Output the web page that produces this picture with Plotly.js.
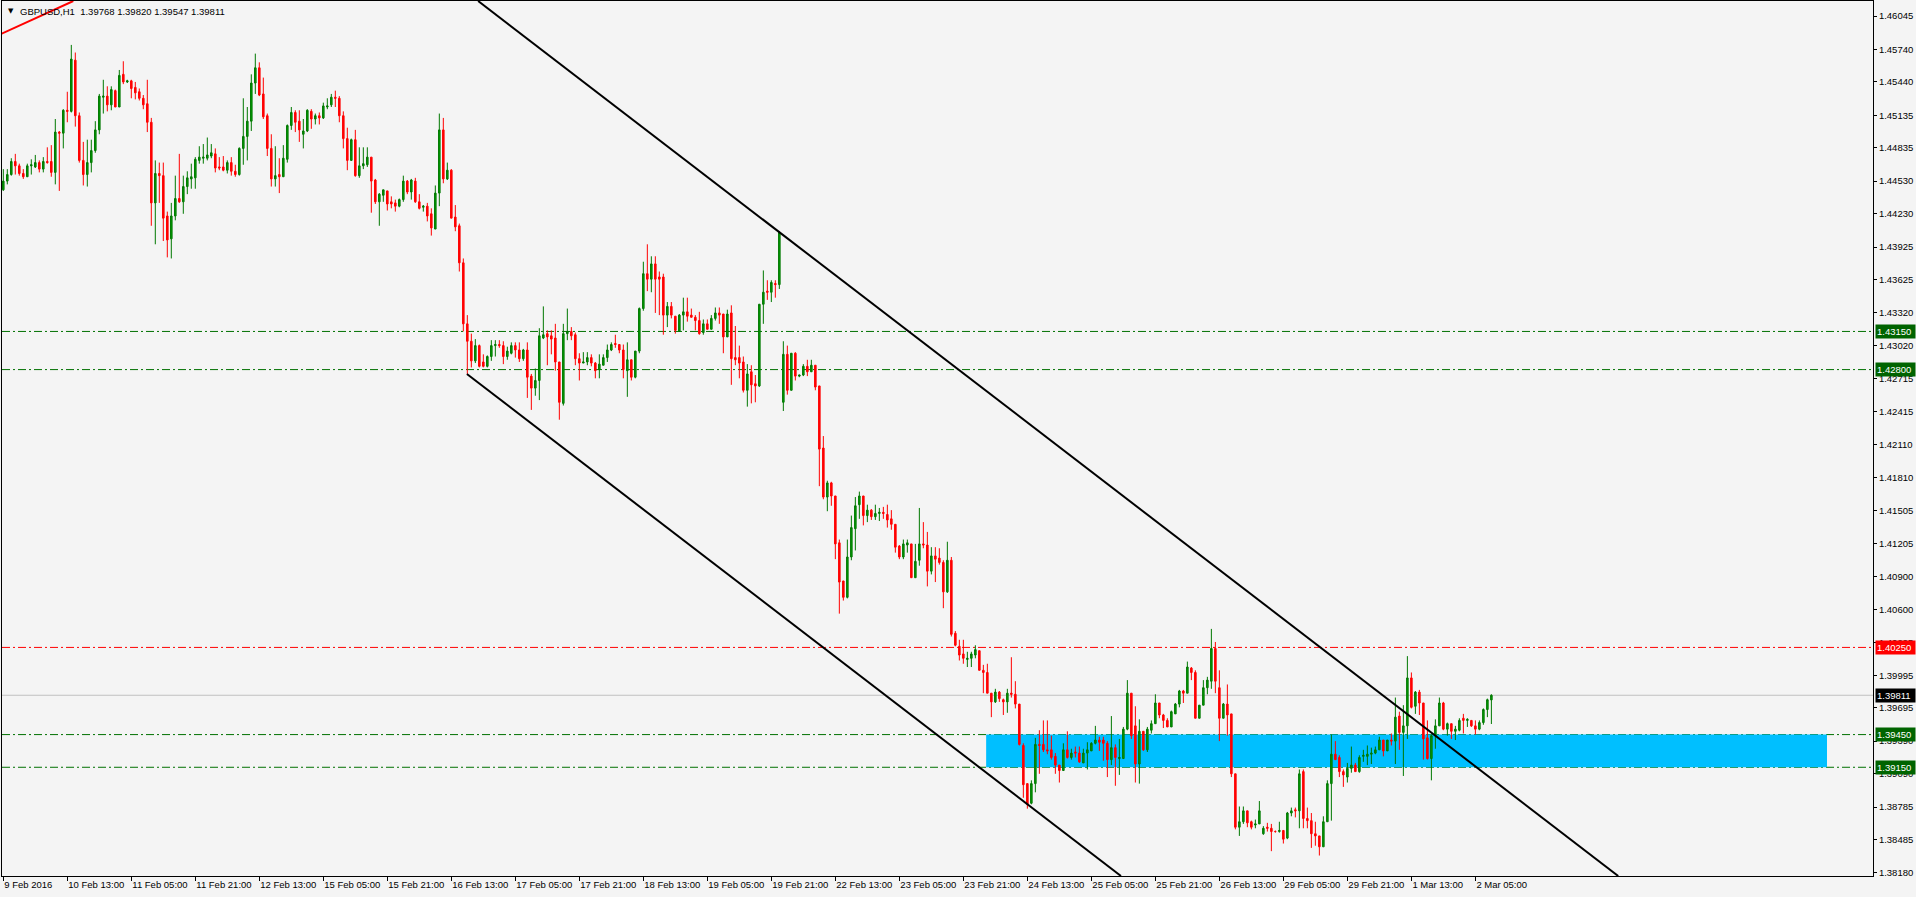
<!DOCTYPE html>
<html><head><meta charset="utf-8">
<script src="https://cdn.plot.ly/plotly-3.0.1.min.js"></script>
<style>html,body{margin:0;padding:0;background:#f4f4f4;overflow:hidden}#chart{width:1916px;height:897px}</style>
</head><body><div id="chart"></div>
<script>
// GBPUSD H1, bars from 9 Feb 2016 21:00 to 2 Mar 2016 09:00
const barOpen = [
1.4445,1.4453,1.4459,1.4471,1.4467,1.4460,1.4457,1.4467,1.4466,1.4470,
1.4464,1.4471,1.4471,1.4461,1.4498,1.4497,1.4518,1.4517,1.4564,1.4513,
1.4472,1.4459,1.4470,1.4481,1.4500,1.4530,1.4531,1.4523,1.4536,1.4521,
1.4551,1.4544,1.4545,1.4539,1.4535,1.4529,1.4524,1.4507,1.4433,1.4460,
1.4458,1.4421,1.4400,1.4421,1.4437,1.4434,1.4448,1.4455,1.4456,1.4472,
1.4474,1.4474,1.4476,1.4478,1.4466,1.4466,1.4463,1.4470,1.4462,1.4459,
1.4483,1.4494,1.4508,1.4543,1.4557,1.4533,1.4513,1.4483,1.4455,1.4459,
1.4457,1.4473,1.4504,1.4516,1.4508,1.4496,1.4499,1.4517,1.4510,1.4513,
1.4511,1.4521,1.4523,1.4530,1.4529,1.4513,1.4492,1.4472,1.4491,1.4458,
1.4467,1.4468,1.4475,1.4454,1.4434,1.4440,1.4444,1.4434,1.4433,1.4430,
1.4436,1.4453,1.4443,1.4453,1.4434,1.4429,1.4430,1.4423,1.4409,1.4442,
1.4500,1.4455,1.4463,1.4420,1.4412,1.4378,1.4322,1.4306,1.4288,1.4302,
1.4287,1.4283,1.4292,1.4302,1.4303,1.4302,1.4292,1.4295,1.4302,1.4298,
1.4290,1.4298,1.4274,1.4263,1.4270,1.4309,1.4313,1.4311,1.4309,1.4287,
1.4249,1.4313,1.4315,1.4312,1.4290,1.4286,1.4287,1.4291,1.4286,1.4280,
1.4284,1.4291,1.4298,1.4304,1.4303,1.4298,1.4279,1.4289,1.4273,1.4297,
1.4336,1.4368,1.4363,1.4377,1.4365,1.4365,1.4330,1.4338,1.4329,1.4315,
1.4330,1.4333,1.4330,1.4328,1.4325,1.4314,1.4322,1.4317,1.4327,1.4332,
1.4331,1.4310,1.4332,1.4291,1.4291,1.4287,1.4261,1.4278,1.4267,1.4265,
1.4340,1.4352,1.4351,1.4359,1.4358,1.4250,1.4294,1.4261,1.4295,1.4274,
1.4275,1.4283,1.4278,1.4284,1.4265,1.4208,1.4163,1.4176,1.4164,1.4121,
1.4086,1.4071,1.4108,1.4134,1.4156,1.4164,1.4146,1.4151,1.4145,1.4148,
1.4149,1.4147,1.4143,1.4138,1.4118,1.4108,1.4119,1.4120,1.4089,1.4105,
1.4120,1.4119,1.4095,1.4109,1.4107,1.4103,1.4076,1.4105,1.4038,1.4026,
1.4019,1.4014,1.4015,1.4018,1.4022,1.4004,1.4002,1.3983,1.3975,1.3984,
1.3977,1.3975,1.3983,1.3982,1.3973,1.3935,1.3900,1.3882,1.3900,1.3936,
1.3936,1.3931,1.3931,1.3925,1.3917,1.3912,1.3931,1.3924,1.3929,1.3928,
1.3919,1.3928,1.3930,1.3937,1.3940,1.3940,1.3937,1.3922,1.3933,1.3923,
1.3923,1.3950,1.3983,1.3953,1.3918,1.3948,1.3931,1.3949,1.3955,1.3974,
1.3963,1.3958,1.3952,1.3964,1.3973,1.3985,1.3983,1.4006,1.4002,1.3960,
1.3972,1.3988,1.3994,1.4024,1.3988,1.3960,1.3973,1.3964,1.3909,1.3860,
1.3865,1.3875,1.3865,1.3862,1.3863,1.3854,1.3860,1.3859,1.3856,1.3856,
1.3857,1.3850,1.3873,1.3876,1.3875,1.3911,1.3868,1.3866,1.3854,1.3852,
1.3842,1.3865,1.3900,1.3927,1.3924,1.3911,1.3906,1.3914,1.3917,1.3911,
1.3925,1.3925,1.3927,1.3928,1.3931,1.3940,1.3930,1.3940,1.3939,1.3962,
1.3947,1.3953,1.3997,1.3971,1.3984,1.3974,1.3942,1.3923,1.3944,1.3953,
1.3974,1.3950,1.3955,1.3948,1.3949,1.3960,1.3958,1.3958,1.3953,1.3950,
1.3956,1.3968,1.39768];
const barHigh = [
1.4464,1.4464,1.4474,1.4478,1.4469,1.4464,1.4469,1.4473,1.4477,1.4472,
1.4475,1.4484,1.4486,1.4510,1.4499,1.4519,1.4535,1.4578,1.4571,1.4516,
1.4489,1.4491,1.4491,1.4508,1.4533,1.4546,1.4540,1.4540,1.4537,1.4555,
1.4563,1.4546,1.4546,1.4544,1.4538,1.4532,1.4546,1.4511,1.4472,1.4470,
1.4470,1.4425,1.4433,1.4458,1.4478,1.4458,1.4462,1.4469,1.4475,1.4485,
1.4487,1.4493,1.4487,1.4483,1.4475,1.4476,1.4472,1.4475,1.4468,1.4484,
1.4529,1.4521,1.4551,1.4570,1.4562,1.4548,1.4515,1.4496,1.4485,1.4474,
1.4486,1.4505,1.4521,1.4518,1.4518,1.4510,1.4519,1.4519,1.4515,1.4516,
1.4525,1.4529,1.4533,1.4536,1.4531,1.4517,1.4502,1.4492,1.4500,1.4484,
1.4484,1.4484,1.4475,1.4455,1.4442,1.4445,1.4444,1.4439,1.4436,1.4437,
1.4458,1.4454,1.4455,1.4456,1.4441,1.4431,1.4433,1.4428,1.4449,1.4515,
1.4511,1.4470,1.4464,1.4431,1.4414,1.4382,1.4330,1.4313,1.4308,1.4303,
1.4294,1.4293,1.4307,1.4307,1.4307,1.4306,1.4301,1.4305,1.4305,1.4305,
1.4299,1.4305,1.4276,1.4281,1.4318,1.4338,1.4316,1.4316,1.4322,1.4287,
1.4322,1.4336,1.4319,1.4314,1.4295,1.4296,1.4296,1.4294,1.4287,1.4294,
1.4294,1.4303,1.4305,1.4312,1.4303,1.4303,1.4305,1.4289,1.4297,1.4337,
1.4379,1.4395,1.4384,1.4384,1.4370,1.4368,1.4342,1.4342,1.4329,1.4331,
1.4346,1.4346,1.4336,1.4330,1.4333,1.4326,1.4326,1.4330,1.4337,1.4337,
1.4331,1.4335,1.4339,1.4320,1.4302,1.4292,1.4285,1.4284,1.4275,1.4340,
1.4371,1.4362,1.4362,1.4362,1.4407,1.4306,1.4302,1.4295,1.4296,1.4275,
1.4285,1.4289,1.4289,1.4284,1.4265,1.4219,1.4178,1.4177,1.4164,1.4124,
1.4086,1.4124,1.4146,1.4163,1.4168,1.4164,1.4156,1.4152,1.4156,1.4153,
1.4154,1.4156,1.4151,1.4138,1.4119,1.4124,1.4124,1.4120,1.4120,1.4153,
1.4140,1.4131,1.4117,1.4117,1.4116,1.4105,1.4122,1.4108,1.4040,1.4032,
1.4032,1.4021,1.4021,1.4027,1.4022,1.4009,1.4010,1.3983,1.3987,1.3985,
1.3978,1.3987,1.4016,1.3994,1.3973,1.3937,1.3900,1.3903,1.3942,1.3949,
1.3958,1.3958,1.3944,1.3928,1.3917,1.3937,1.3948,1.3932,1.3934,1.3934,
1.3932,1.3938,1.3938,1.3953,1.3943,1.3943,1.3939,1.3962,1.3936,1.3941,
1.3952,1.3995,1.3983,1.3971,1.3959,1.3948,1.3952,1.3958,1.3982,1.3974,
1.3964,1.3960,1.3967,1.3974,1.3986,1.3986,1.4012,1.4007,1.4004,1.3972,
1.3995,1.3998,1.4042,1.4030,1.4004,1.3974,1.3991,1.3964,1.3909,1.3879,
1.3879,1.3875,1.3866,1.3867,1.3884,1.3861,1.3864,1.3863,1.3857,1.3865,
1.3857,1.3874,1.3878,1.3878,1.3913,1.3913,1.3878,1.3873,1.3865,1.3852,
1.3870,1.3903,1.3945,1.3939,1.3926,1.3913,1.3919,1.3934,1.3919,1.3926,
1.3931,1.3935,1.3933,1.3934,1.3943,1.3940,1.3940,1.3946,1.3979,1.3966,
1.3972,1.4017,1.4002,1.3985,1.3986,1.3974,1.3958,1.3945,1.3959,1.3979,
1.3975,1.3956,1.3955,1.3953,1.3960,1.3964,1.3960,1.3958,1.3958,1.3958,
1.3969,1.3978,1.39820];
const barLow = [
1.4444,1.4450,1.4458,1.4459,1.4458,1.4455,1.4457,1.4459,1.4465,1.4461,
1.4461,1.4469,1.4457,1.4450,1.4444,1.4483,1.4507,1.4516,1.4503,1.4470,
1.4449,1.4448,1.4461,1.4479,1.4496,1.4515,1.4517,1.4518,1.4521,1.4521,
1.4542,1.4543,1.4529,1.4528,1.4527,1.4519,1.4498,1.4412,1.4395,1.4433,
1.4398,1.4383,1.4382,1.4417,1.4433,1.4423,1.4441,1.4446,1.4446,1.4469,
1.4469,1.4472,1.4474,1.4461,1.4463,1.4462,1.4460,1.4458,1.4457,1.4458,
1.4468,1.4472,1.4499,1.4533,1.4531,1.4510,1.4476,1.4448,1.4448,1.4442,
1.4457,1.4470,1.4500,1.4498,1.4489,1.4483,1.4498,1.4501,1.4505,1.4505,
1.4510,1.4519,1.4521,1.4521,1.4507,1.4483,1.4463,1.4472,1.4457,1.4456,
1.4464,1.4466,1.4424,1.4432,1.4412,1.4434,1.4426,1.4428,1.4425,1.4429,
1.4434,1.4441,1.4436,1.4433,1.4427,1.4425,1.4416,1.4403,1.4409,1.4430,
1.4451,1.4454,1.4419,1.4407,1.4370,1.4315,1.4276,1.4282,1.4286,1.4282,
1.4282,1.4282,1.4288,1.4292,1.4300,1.4285,1.4289,1.4294,1.4291,1.4287,
1.4288,1.4254,1.4243,1.4256,1.4252,1.4308,1.4284,1.4294,1.4279,1.4234,
1.4247,1.4307,1.4307,1.4284,1.4270,1.4286,1.4284,1.4283,1.4272,1.4272,
1.4284,1.4287,1.4297,1.4300,1.4295,1.4272,1.4255,1.4270,1.4272,1.4295,
1.4334,1.4352,1.4351,1.4332,1.4330,1.4312,1.4319,1.4327,1.4313,1.4315,
1.4316,1.4324,1.4328,1.4316,1.4312,1.4312,1.4317,1.4317,1.4325,1.4322,
1.4295,1.4310,1.4266,1.4284,1.4272,1.4259,1.4246,1.4249,1.4250,1.4264,
1.4322,1.4344,1.4342,1.4346,1.4354,1.4242,1.4257,1.4261,1.4270,1.4273,
1.4274,1.4274,1.4278,1.4261,1.4173,1.4161,1.4150,1.4155,1.4106,1.4056,
1.4068,1.4070,1.4105,1.4114,1.4143,1.4137,1.4140,1.4142,1.4142,1.4141,
1.4143,1.4135,1.4133,1.4112,1.4106,1.4106,1.4112,1.4089,1.4089,1.4100,
1.4116,1.4081,1.4092,1.4085,1.4101,1.4061,1.4075,1.4035,1.4026,1.4013,
1.4010,1.4007,1.4007,1.4015,1.4004,1.3983,1.3983,1.3961,1.3974,1.3975,
1.3963,1.3965,1.3979,1.3969,1.3935,1.3887,1.3877,1.3881,1.3892,1.3909,
1.3929,1.3927,1.3922,1.3909,1.3901,1.3912,1.3923,1.3922,1.3924,1.3919,
1.3919,1.3913,1.3930,1.3936,1.3930,1.3921,1.3906,1.3917,1.3898,1.3908,
1.3923,1.3949,1.3941,1.3901,1.3900,1.3930,1.3929,1.3946,1.3955,1.3960,
1.3951,1.3952,1.3952,1.3964,1.3970,1.3974,1.3983,1.3995,1.3960,1.3960,
1.3972,1.3982,1.3987,1.3983,1.3939,1.3960,1.3944,1.3906,1.3858,1.3852,
1.3863,1.3860,1.3858,1.3859,1.3863,1.3853,1.3856,1.3838,1.3855,1.3855,
1.3845,1.3849,1.3870,1.3869,1.3859,1.3859,1.3859,1.3841,1.3843,1.3834,
1.3842,1.3865,1.3866,1.3922,1.3906,1.3897,1.3901,1.3910,1.3911,1.3910,
1.3920,1.3917,1.3918,1.3927,1.3931,1.3925,1.3930,1.3935,1.3918,1.3931,
1.3907,1.3941,1.3969,1.3964,1.3963,1.3922,1.3922,1.3903,1.3932,1.3953,
1.3949,1.3944,1.3941,1.3940,1.3948,1.3946,1.3952,1.3952,1.3945,1.3949,
1.3954,1.3961,1.39547];
const barClose = [
1.4453,1.4459,1.4471,1.4467,1.4460,1.4457,1.4467,1.4468,1.4470,1.4464,
1.4471,1.4470,1.4461,1.4498,1.4497,1.4518,1.4517,1.4565,1.4513,1.4472,
1.4459,1.4470,1.4481,1.4500,1.4531,1.4531,1.4523,1.4537,1.4521,1.4550,
1.4544,1.4545,1.4538,1.4534,1.4529,1.4523,1.4507,1.4433,1.4460,1.4458,
1.4419,1.4399,1.4421,1.4437,1.4434,1.4448,1.4456,1.4457,1.4473,1.4475,
1.4475,1.4477,1.4479,1.4465,1.4465,1.4463,1.4470,1.4462,1.4459,1.4483,
1.4494,1.4508,1.4543,1.4557,1.4532,1.4512,1.4483,1.4455,1.4458,1.4457,
1.4474,1.4504,1.4516,1.4507,1.4500,1.4499,1.4518,1.4510,1.4513,1.4511,
1.4522,1.4522,1.4530,1.4529,1.4513,1.4492,1.4472,1.4491,1.4458,1.4467,
1.4469,1.4475,1.4453,1.4434,1.4441,1.4445,1.4432,1.4432,1.4430,1.4436,
1.4453,1.4443,1.4454,1.4434,1.4428,1.4430,1.4421,1.4410,1.4442,1.4500,
1.4455,1.4463,1.4419,1.4411,1.4378,1.4322,1.4306,1.4288,1.4302,1.4283,
1.4283,1.4292,1.4302,1.4303,1.4302,1.4292,1.4297,1.4302,1.4298,1.4290,
1.4298,1.4273,1.4263,1.4270,1.4311,1.4312,1.4310,1.4308,1.4287,1.4250,
1.4313,1.4315,1.4311,1.4290,1.4286,1.4287,1.4291,1.4286,1.4279,1.4285,
1.4291,1.4298,1.4303,1.4303,1.4298,1.4280,1.4289,1.4273,1.4297,1.4336,
1.4368,1.4363,1.4377,1.4363,1.4363,1.4330,1.4338,1.4330,1.4316,1.4330,
1.4333,1.4329,1.4328,1.4325,1.4313,1.4322,1.4317,1.4327,1.4332,1.4330,
1.4310,1.4331,1.4290,1.4289,1.4286,1.4261,1.4276,1.4266,1.4265,1.4340,
1.4351,1.4351,1.4360,1.4358,1.4406,1.4294,1.4261,1.4295,1.4274,1.4275,
1.4283,1.4278,1.4284,1.4264,1.4207,1.4163,1.4176,1.4164,1.4120,1.4085,
1.4071,1.4108,1.4135,1.4155,1.4164,1.4146,1.4151,1.4145,1.4148,1.4149,
1.4148,1.4142,1.4138,1.4117,1.4108,1.4120,1.4121,1.4089,1.4104,1.4120,
1.4119,1.4095,1.4109,1.4106,1.4103,1.4076,1.4105,1.4037,1.4027,1.4018,
1.4015,1.4015,1.4019,1.4023,1.4004,1.4002,1.3983,1.3975,1.3984,1.3978,
1.3975,1.3983,1.3982,1.3973,1.3936,1.3899,1.3881,1.3900,1.3936,1.3935,
1.3931,1.3930,1.3924,1.3917,1.3912,1.3931,1.3924,1.3928,1.3928,1.3920,
1.3928,1.3931,1.3937,1.3940,1.3938,1.3937,1.3922,1.3933,1.3924,1.3924,
1.3950,1.3983,1.3944,1.3918,1.3948,1.3931,1.3950,1.3955,1.3974,1.3963,
1.3958,1.3952,1.3966,1.3973,1.3985,1.3983,1.4007,1.4002,1.3960,1.3972,
1.3988,1.3995,1.4024,1.3994,1.3960,1.3973,1.3963,1.3909,1.3860,1.3865,
1.3875,1.3864,1.3860,1.3863,1.3875,1.3859,1.3859,1.3856,1.3856,1.3857,
1.3849,1.3873,1.3875,1.3875,1.3909,1.3868,1.3866,1.3854,1.3852,1.3842,
1.3865,1.3900,1.3927,1.3922,1.3911,1.3908,1.3914,1.3917,1.3911,1.3924,
1.3926,1.3927,1.3928,1.3931,1.3940,1.3930,1.3940,1.3939,1.3961,1.3947,
1.3953,1.3997,1.3970,1.3984,1.3974,1.3941,1.3923,1.3944,1.3953,1.3974,
1.3950,1.3955,1.3948,1.3950,1.3958,1.3958,1.3959,1.3953,1.3950,1.3956,
1.3968,1.3977,1.39811];

// time-axis labels, one every 16 hourly bars
const timeLabels = ["9 Feb 2016","10 Feb 13:00","11 Feb 05:00","11 Feb 21:00","12 Feb 13:00",
"15 Feb 05:00","15 Feb 21:00","16 Feb 13:00","17 Feb 05:00","17 Feb 21:00","18 Feb 13:00",
"19 Feb 05:00","19 Feb 21:00","22 Feb 13:00","23 Feb 05:00","23 Feb 21:00","24 Feb 13:00",
"25 Feb 05:00","25 Feb 21:00","26 Feb 13:00","29 Feb 05:00","29 Feb 21:00","1 Mar 13:00","2 Mar 05:00"];
const barsPerLabel = 16;

// price-scale labels
const priceTicks = [1.46045,1.45740,1.45440,1.45135,1.44835,1.44530,1.44230,1.43925,1.43625,
1.43320,1.43020,1.42715,1.42415,1.42110,1.41810,1.41505,1.41205,1.40900,1.40600,1.40295,
1.39995,1.39695,1.39390,1.39090,1.38785,1.38485,1.38180];

// horizontal levels
const levelPrices = [1.43150, 1.42800, 1.40250, 1.39450, 1.39150];
const levelColors = ["#007000", "#007000", "#ff0000", "#007000", "#007000"];
const levelBoxColors = ["#006400", "#006400", "#ff0000", "#006400", "#006400"];
const bidPrice = 1.39811;
const headerText = "GBPUSD,H1  1.39768 1.39820 1.39547 1.39811";

// drawn objects (bar index, price)
const zoneBars = [245.7, 455.9];
const zonePrices = [1.39150, 1.39450];
const upperChannelBars = [118.7, 403.7];
const upperChannelPrices = [1.46183, 1.38152];
const lowerChannelBars = [115.9, 279.4];
const lowerChannelPrices = [1.42759, 1.38152];
const redTrendBars = [-0.4, 17.5];
const redTrendPrices = [1.45883, 1.46183];

const xIdx = barOpen.map((_, i) => i);
const tickVals = timeLabels.map((_, k) => k * barsPerLabel);

const FONT = "Liberation Sans, Arial, sans-serif";

const trace = {
  type: "candlestick",
  x: xIdx, open: barOpen, high: barHigh, low: barLow, close: barClose,
  increasing: {line: {color: "#007800", width: 1}, fillcolor: "#00a000"},
  decreasing: {line: {color: "#ff0000", width: 1}, fillcolor: "#ff0000"},
  whiskerwidth: 0,
  hoverinfo: "skip"
};

const shapes = [];
shapes.push({type: "rect", xref: "x", yref: "y", x0: zoneBars[0], x1: zoneBars[1],
  y0: zonePrices[0], y1: zonePrices[1], fillcolor: "#00bfff", line: {width: 0}, layer: "below"});
levelPrices.forEach((p, k) => shapes.push({type: "line", xref: "paper", yref: "y", x0: 0, x1: 1,
  y0: p, y1: p, line: {color: levelColors[k], width: 1, dash: "8px,3px,2px,3px"}, layer: "below"}));
shapes.push({type: "line", xref: "paper", yref: "y", x0: 0, x1: 1, y0: bidPrice, y1: bidPrice,
  line: {color: "#c0c0c0", width: 1}, layer: "below"});
shapes.push({type: "line", xref: "x", yref: "y", x0: upperChannelBars[0], x1: upperChannelBars[1],
  y0: upperChannelPrices[0], y1: upperChannelPrices[1], line: {color: "#000000", width: 2}});
shapes.push({type: "line", xref: "x", yref: "y", x0: lowerChannelBars[0], x1: lowerChannelBars[1],
  y0: lowerChannelPrices[0], y1: lowerChannelPrices[1], line: {color: "#000000", width: 2}});
shapes.push({type: "line", xref: "x", yref: "y", x0: redTrendBars[0], x1: redTrendBars[1],
  y0: redTrendPrices[0], y1: redTrendPrices[1], line: {color: "#ff0000", width: 2}});

const annotations = [];
const boxPrices = levelPrices.concat([bidPrice]);
const boxColors = levelBoxColors.concat(["#000000"]);
boxPrices.forEach((p, k) => annotations.push({
  xref: "paper", yref: "y", x: 1, y: p, xanchor: "left", yanchor: "middle", xshift: 2,
  text: p.toFixed(5), showarrow: false, bgcolor: boxColors[k], borderpad: 1, width: 37, align: "left",
  font: {family: FONT, size: 9.5, color: "#ffffff"}
}));
annotations.push({xref: "paper", yref: "paper", x: 0, y: 1, xanchor: "left", yanchor: "top",
  xshift: 16, yshift: -3, text: headerText, showarrow: false,
  font: {family: FONT, size: 9.5, color: "#000000"}});
annotations.push({xref: "paper", yref: "paper", x: 0, y: 1, xanchor: "left", yanchor: "top",
  xshift: 4, yshift: -4, text: "▼", showarrow: false,
  font: {family: "DejaVu Sans, sans-serif", size: 7, color: "#000000"}});

const layout = {
  width: 1916, height: 897,
  margin: {l: 2, r: 43, t: 1, b: 21, pad: 0},
  paper_bgcolor: "#f4f4f4", plot_bgcolor: "#f4f4f4",
  showlegend: false, hovermode: false, boxgap: 0.45,
  font: {family: FONT, size: 9.5, color: "#000000"},
  xaxis: {
    type: "linear", range: [-0.325, 467.4], rangeslider: {visible: false},
    showgrid: false, zeroline: false, showline: true, linecolor: "#000000", linewidth: 1, mirror: true,
    tickmode: "array", tickvals: tickVals, ticktext: timeLabels, tickangle: 0,
    ticks: "outside", ticklen: 4, tickcolor: "#000000", ticklabelposition: "outside right",
    tickfont: {family: FONT, size: 9.5, color: "#000000"}, fixedrange: true
  },
  yaxis: {
    side: "right", range: [1.38152, 1.46183],
    showgrid: false, zeroline: false, showline: true, linecolor: "#000000", linewidth: 1, mirror: true,
    tickmode: "array", tickvals: priceTicks, ticktext: priceTicks.map(v => v.toFixed(5)),
    ticks: "outside", ticklen: 3, tickcolor: "#000000",
    tickfont: {family: FONT, size: 9.5, color: "#000000"}, fixedrange: true
  },
  shapes: shapes,
  annotations: annotations
};

Plotly.newPlot("chart", [trace], layout, {displayModeBar: false, staticPlot: true});
</script>
</body></html>
